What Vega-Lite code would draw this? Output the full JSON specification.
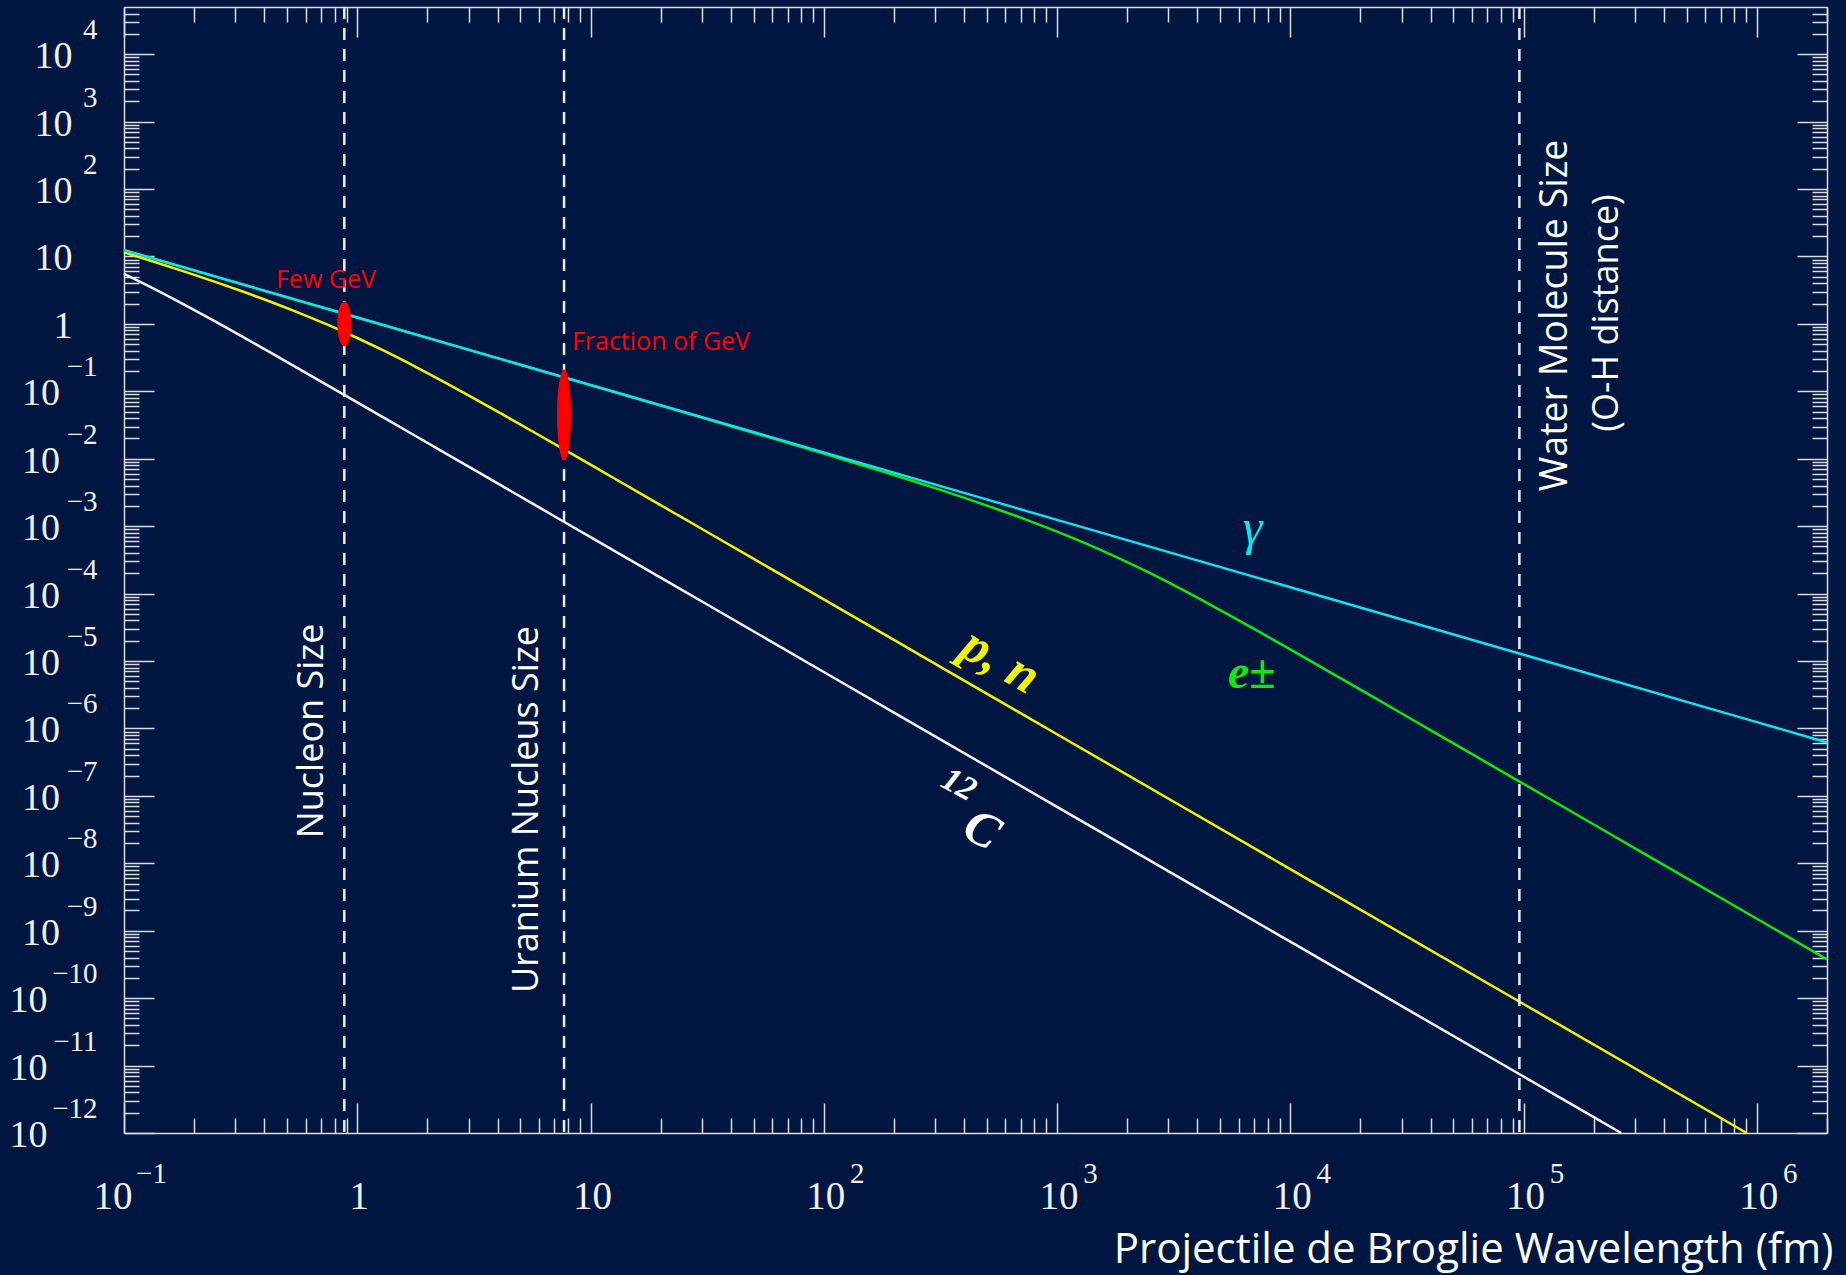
{
  "$schema": "https://vega.github.io/schema/vega-lite/v6.json",
  "width": 1703,
  "height": 1126,
  "autosize": {"type": "none"},
  "padding": {"left": 124, "top": 7, "right": 19, "bottom": 142},
  "background": "#011640",
  "config": {
    "view": {"stroke": null},
    "axis": {
      "grid": false, "domain": false, "ticks": false, "labels": false,
      "tickColor": "#dcdcdc", "tickWidth": 1.5, "domainColor": "#dcdcdc", "domainWidth": 1.5,
      "labelColor": "#f0f0f0", "labelFont": "Liberation Serif", "labelOverlap": false,
      "labelFlush": false, "labelBound": false, "labelLimit": 400
    }
  },
  "datasets": {
    "curves": [
      {"particle": "gamma", "wavelength_fm": 0.1, "energy_GeV": 12.3984},
      {"particle": "gamma", "wavelength_fm": 1, "energy_GeV": 1.23984},
      {"particle": "gamma", "wavelength_fm": 10, "energy_GeV": 0.123984},
      {"particle": "gamma", "wavelength_fm": 100, "energy_GeV": 0.0123984},
      {"particle": "gamma", "wavelength_fm": 1000, "energy_GeV": 0.00123984},
      {"particle": "gamma", "wavelength_fm": 10000, "energy_GeV": 0.000123984},
      {"particle": "gamma", "wavelength_fm": 100000, "energy_GeV": 0.0000123984},
      {"particle": "gamma", "wavelength_fm": 1000000, "energy_GeV": 0.00000123984},
      {"particle": "gamma", "wavelength_fm": 2000000, "energy_GeV": 6.1992e-7},
      {"particle": "electron", "wavelength_fm": 0.1, "energy_GeV": 12.3979},
      {"particle": "electron", "wavelength_fm": 1, "energy_GeV": 1.23933},
      {"particle": "electron", "wavelength_fm": 10, "energy_GeV": 0.123474},
      {"particle": "electron", "wavelength_fm": 31.6228, "energy_GeV": 0.0386993},
      {"particle": "electron", "wavelength_fm": 100, "energy_GeV": 0.0118979},
      {"particle": "electron", "wavelength_fm": 133.352, "energy_GeV": 0.0088006},
      {"particle": "electron", "wavelength_fm": 177.828, "energy_GeV": 0.00647983},
      {"particle": "electron", "wavelength_fm": 237.137, "energy_GeV": 0.0047423},
      {"particle": "electron", "wavelength_fm": 316.228, "energy_GeV": 0.0034429},
      {"particle": "electron", "wavelength_fm": 421.697, "energy_GeV": 0.00247319},
      {"particle": "electron", "wavelength_fm": 562.341, "energy_GeV": 0.00175222},
      {"particle": "electron", "wavelength_fm": 749.894, "energy_GeV": 0.00121951},
      {"particle": "electron", "wavelength_fm": 1000, "energy_GeV": 0.00083002},
      {"particle": "electron", "wavelength_fm": 1333.52, "energy_GeV": 0.00054992},
      {"particle": "electron", "wavelength_fm": 1778.28, "energy_GeV": 0.000353423},
      {"particle": "electron", "wavelength_fm": 2371.37, "energy_GeV": 0.000220082},
      {"particle": "electron", "wavelength_fm": 3162.28, "energy_GeV": 0.000133081},
      {"particle": "electron", "wavelength_fm": 4216.97, "energy_GeV": 0.000078545},
      {"particle": "electron", "wavelength_fm": 5623.41, "energy_GeV": 0.000045535},
      {"particle": "electron", "wavelength_fm": 7498.94, "energy_GeV": 0.0000260819},
      {"particle": "electron", "wavelength_fm": 10000, "energy_GeV": 0.0000148262},
      {"particle": "electron", "wavelength_fm": 13335.2, "energy_GeV": 0.0000083894},
      {"particle": "electron", "wavelength_fm": 17782.8, "energy_GeV": 0.0000047343},
      {"particle": "electron", "wavelength_fm": 23713.7, "energy_GeV": 0.00000266777},
      {"particle": "electron", "wavelength_fm": 31622.8, "energy_GeV": 0.00000150189},
      {"particle": "electron", "wavelength_fm": 42169.7, "energy_GeV": 8.4512e-7},
      {"particle": "electron", "wavelength_fm": 56234.1, "energy_GeV": 4.7542e-7},
      {"particle": "electron", "wavelength_fm": 100000, "energy_GeV": 1.50389e-7},
      {"particle": "electron", "wavelength_fm": 316228, "energy_GeV": 1.50409e-8},
      {"particle": "electron", "wavelength_fm": 1000000, "energy_GeV": 1.50411e-9},
      {"particle": "electron", "wavelength_fm": 2000000, "energy_GeV": 3.7603e-10},
      {"particle": "proton", "wavelength_fm": 0.1, "energy_GeV": 11.4956},
      {"particle": "proton", "wavelength_fm": 0.133352, "energy_GeV": 8.40646},
      {"particle": "proton", "wavelength_fm": 0.177828, "energy_GeV": 6.0967},
      {"particle": "proton", "wavelength_fm": 0.237137, "energy_GeV": 4.37361},
      {"particle": "proton", "wavelength_fm": 0.316228, "energy_GeV": 3.0932},
      {"particle": "proton", "wavelength_fm": 0.421697, "energy_GeV": 2.14794},
      {"particle": "proton", "wavelength_fm": 0.562341, "energy_GeV": 1.4579},
      {"particle": "proton", "wavelength_fm": 0.749894, "energy_GeV": 0.96276},
      {"particle": "proton", "wavelength_fm": 1, "energy_GeV": 0.61658},
      {"particle": "proton", "wavelength_fm": 1.33352, "energy_GeV": 0.382633},
      {"particle": "proton", "wavelength_fm": 1.77828, "energy_GeV": 0.23069},
      {"particle": "proton", "wavelength_fm": 2.37137, "energy_GeV": 0.135837},
      {"particle": "proton", "wavelength_fm": 3.16228, "energy_GeV": 0.078622},
      {"particle": "proton", "wavelength_fm": 4.21697, "energy_GeV": 0.044986},
      {"particle": "proton", "wavelength_fm": 5.62341, "energy_GeV": 0.025556},
      {"particle": "proton", "wavelength_fm": 7.49894, "energy_GeV": 0.014456},
      {"particle": "proton", "wavelength_fm": 10, "energy_GeV": 0.0081562},
      {"particle": "proton", "wavelength_fm": 13.3352, "energy_GeV": 0.0045953},
      {"particle": "proton", "wavelength_fm": 17.7828, "energy_GeV": 0.0025869},
      {"particle": "proton", "wavelength_fm": 23.7137, "energy_GeV": 0.0014556},
      {"particle": "proton", "wavelength_fm": 31.6228, "energy_GeV": 0.00081881},
      {"particle": "proton", "wavelength_fm": 56.2341, "energy_GeV": 0.00025901},
      {"particle": "proton", "wavelength_fm": 100, "energy_GeV": 0.000081913},
      {"particle": "proton", "wavelength_fm": 316.228, "energy_GeV": 0.0000081916},
      {"particle": "proton", "wavelength_fm": 1000, "energy_GeV": 8.1917e-7},
      {"particle": "proton", "wavelength_fm": 10000, "energy_GeV": 8.1917e-9},
      {"particle": "proton", "wavelength_fm": 100000, "energy_GeV": 8.1917e-11},
      {"particle": "proton", "wavelength_fm": 905080, "energy_GeV": 1e-12},
      {"particle": "carbon", "wavelength_fm": 0.1, "energy_GeV": 5.51535},
      {"particle": "carbon", "wavelength_fm": 0.133352, "energy_GeV": 3.3613},
      {"particle": "carbon", "wavelength_fm": 0.177828, "energy_GeV": 1.99615},
      {"particle": "carbon", "wavelength_fm": 0.237137, "energy_GeV": 1.16232},
      {"particle": "carbon", "wavelength_fm": 0.316228, "energy_GeV": 0.66766},
      {"particle": "carbon", "wavelength_fm": 0.421697, "energy_GeV": 0.3802},
      {"particle": "carbon", "wavelength_fm": 0.562341, "energy_GeV": 0.21536},
      {"particle": "carbon", "wavelength_fm": 0.749894, "energy_GeV": 0.121613},
      {"particle": "carbon", "wavelength_fm": 1, "energy_GeV": 0.06855},
      {"particle": "carbon", "wavelength_fm": 1.33352, "energy_GeV": 0.0386},
      {"particle": "carbon", "wavelength_fm": 1.77828, "energy_GeV": 0.021723},
      {"particle": "carbon", "wavelength_fm": 2.37137, "energy_GeV": 0.012221},
      {"particle": "carbon", "wavelength_fm": 3.16228, "energy_GeV": 0.0068739},
      {"particle": "carbon", "wavelength_fm": 5.62341, "energy_GeV": 0.0021742},
      {"particle": "carbon", "wavelength_fm": 10, "energy_GeV": 0.00068758},
      {"particle": "carbon", "wavelength_fm": 31.6228, "energy_GeV": 0.000068759},
      {"particle": "carbon", "wavelength_fm": 100, "energy_GeV": 0.000006876},
      {"particle": "carbon", "wavelength_fm": 1000, "energy_GeV": 6.876e-8},
      {"particle": "carbon", "wavelength_fm": 10000, "energy_GeV": 6.876e-10},
      {"particle": "carbon", "wavelength_fm": 100000, "energy_GeV": 6.876e-12},
      {"particle": "carbon", "wavelength_fm": 262220, "energy_GeV": 1e-12}
    ],
    "sizes": [
      {"what": "Nucleon", "wavelength_fm": 0.88},
      {"what": "Uranium nucleus", "wavelength_fm": 7.7},
      {"what": "Water molecule", "wavelength_fm": 96000}
    ],
    "ellipses": [
      {"key": "few", "wavelength_fm": 0.88, "energy_GeV": 1.0},
      {"key": "fraction", "wavelength_fm": 7.7, "energy_GeV": 0.0445}
    ],
    "labels": [
      {"key": "fewgev", "text": "Few GeV", "wavelength_fm": 0.734, "energy_GeV": 3.4},
      {"key": "fraction", "text": "Fraction of GeV", "wavelength_fm": 8.32, "energy_GeV": 0.409},
      {"key": "nucleon", "text": "Nucleon Size", "wavelength_fm": 0.639, "energy_GeV": 9.16e-7},
      {"key": "uranium", "text": "Uranium Nucleus Size", "wavelength_fm": 5.36, "energy_GeV": 6.27e-8},
      {"key": "water", "text": "Water Molecule Size", "wavelength_fm": 138000, "energy_GeV": 1.33},
      {"key": "oh", "text": "(O-H distance)", "wavelength_fm": 227000, "energy_GeV": 1.45},
      {"key": "gamma", "text": "γ", "wavelength_fm": 6902, "energy_GeV": 0.000543},
      {"key": "epm", "text": "e±", "wavelength_fm": 6839, "energy_GeV": 0.00000397},
      {"key": "pn", "text": "p, n", "wavelength_fm": 574, "energy_GeV": 0.00001},
      {"key": "a12", "text": "12", "wavelength_fm": 379, "energy_GeV": 1.45e-7},
      {"key": "c", "text": "C", "wavelength_fm": 476, "energy_GeV": 3.12e-8}
    ]
  },
  "resolve": {"axis": {"x": "independent", "y": "independent"}},
  "layer": [
    {
      "data": {"name": "curves"},
      "transform": [{"filter": "datum.particle == 'carbon'"}],
      "mark": {"type": "line", "color": "#f2f2f2", "strokeWidth": 2.5, "interpolate": "monotone"},
      "encoding": {
        "x": {"field": "wavelength_fm", "type": "quantitative", "scale": {"type": "log", "domain": [0.1, 2000000], "nice": false},
          "axis": {"orient": "bottom", "values": [0.1, 1, 10, 100, 1000, 10000, 100000, 1000000], "ticks": true, "tickSize": -30, "domain": true,
            "title": "Projectile de Broglie Wavelength (fm)", "titleFont": "Open Sans", "titleFontSize": 42, "titleFontWeight": "normal", "titleColor": "#ffffff",
            "titleAlign": "right", "titleAnchor": "end", "titleBaseline": "alphabetic", "titleX": 1709, "titleY": 129, "titleAngle": 0}},
        "y": {"field": "energy_GeV", "type": "quantitative", "scale": {"type": "log", "domain": [1e-12, 50000], "nice": false},
          "axis": {"orient": "left", "values": [1e-12, 1e-11, 1e-10, 1e-9, 1e-8, 1e-7, 1e-6, 1e-5, 1e-4, 1e-3, 0.01, 0.1, 1, 10, 100, 1000, 10000], "ticks": true, "tickSize": -30, "domain": true, "title": null}}
      }
    },
    {
      "data": {"name": "curves"},
      "transform": [{"filter": "datum.particle == 'proton'"}],
      "mark": {"type": "line", "color": "#f2f200", "strokeWidth": 2.5, "interpolate": "monotone"},
      "encoding": {
        "x": {"field": "wavelength_fm", "type": "quantitative", "scale": {"type": "log", "domain": [0.1, 2000000], "nice": false},
          "axis": {"orient": "bottom", "values": [0.2, 0.3, 0.4, 0.5, 0.6, 0.7, 0.8, 0.9, 2, 3, 4, 5, 6, 7, 8, 9, 20, 30, 40, 50, 60, 70, 80, 90, 200, 300, 400, 500, 600, 700, 800, 900, 2000, 3000, 4000, 5000, 6000, 7000, 8000, 9000, 20000, 30000, 40000, 50000, 60000, 70000, 80000, 90000, 200000, 300000, 400000, 500000, 600000, 700000, 800000, 900000, 2000000], "ticks": true, "tickSize": -15, "title": null}},
        "y": {"field": "energy_GeV", "type": "quantitative", "scale": {"type": "log", "domain": [1e-12, 50000], "nice": false},
          "axis": {"orient": "left", "values": [2e-12, 3e-12, 4e-12, 5e-12, 6e-12, 7e-12, 8e-12, 9e-12, 2e-11, 3e-11, 4e-11, 5e-11, 6e-11, 7e-11, 8e-11, 9e-11, 2e-10, 3e-10, 4e-10, 5e-10, 6e-10, 7e-10, 8e-10, 9e-10, 2e-9, 3e-9, 4e-9, 5e-9, 6e-9, 7e-9, 8e-9, 9e-9, 2e-8, 3e-8, 4e-8, 5e-8, 6e-8, 7e-8, 8e-8, 9e-8, 2e-7, 3e-7, 4e-7, 5e-7, 6e-7, 7e-7, 8e-7, 9e-7, 2e-6, 3e-6, 4e-6, 5e-6, 6e-6, 7e-6, 8e-6, 9e-6, 2e-5, 3e-5, 4e-5, 5e-5, 6e-5, 7e-5, 8e-5, 9e-5, 2e-4, 3e-4, 4e-4, 5e-4, 6e-4, 7e-4, 8e-4, 9e-4, 0.002, 0.003, 0.004, 0.005, 0.006, 0.007, 0.008, 0.009, 0.02, 0.03, 0.04, 0.05, 0.06, 0.07, 0.08, 0.09, 0.2, 0.3, 0.4, 0.5, 0.6, 0.7, 0.8, 0.9, 2, 3, 4, 5, 6, 7, 8, 9, 20, 30, 40, 50, 60, 70, 80, 90, 200, 300, 400, 500, 600, 700, 800, 900, 2000, 3000, 4000, 5000, 6000, 7000, 8000, 9000, 20000, 30000, 40000], "ticks": true, "tickSize": -15, "title": null}}
      }
    },
    {
      "data": {"name": "curves"},
      "transform": [{"filter": "datum.particle == 'electron'"}],
      "mark": {"type": "line", "color": "#12e612", "strokeWidth": 2.5, "interpolate": "monotone"},
      "encoding": {
        "x": {"field": "wavelength_fm", "type": "quantitative", "scale": {"type": "log", "domain": [0.1, 2000000], "nice": false},
          "axis": {"orient": "top", "values": [0.1, 1, 10, 100, 1000, 10000, 100000, 1000000], "ticks": true, "tickSize": -30, "domain": true, "title": null}},
        "y": {"field": "energy_GeV", "type": "quantitative", "scale": {"type": "log", "domain": [1e-12, 50000], "nice": false},
          "axis": {"orient": "right", "values": [1e-12, 1e-11, 1e-10, 1e-9, 1e-8, 1e-7, 1e-6, 1e-5, 1e-4, 1e-3, 0.01, 0.1, 1, 10, 100, 1000, 10000], "ticks": true, "tickSize": -30, "domain": true, "title": null}}
      }
    },
    {
      "data": {"name": "curves"},
      "transform": [{"filter": "datum.particle == 'gamma'"}],
      "mark": {"type": "line", "color": "#10e2f0", "strokeWidth": 2.5},
      "encoding": {
        "x": {"field": "wavelength_fm", "type": "quantitative", "scale": {"type": "log", "domain": [0.1, 2000000], "nice": false},
          "axis": {"orient": "top", "values": [0.2, 0.3, 0.4, 0.5, 0.6, 0.7, 0.8, 0.9, 2, 3, 4, 5, 6, 7, 8, 9, 20, 30, 40, 50, 60, 70, 80, 90, 200, 300, 400, 500, 600, 700, 800, 900, 2000, 3000, 4000, 5000, 6000, 7000, 8000, 9000, 20000, 30000, 40000, 50000, 60000, 70000, 80000, 90000, 200000, 300000, 400000, 500000, 600000, 700000, 800000, 900000, 2000000], "ticks": true, "tickSize": -15, "title": null}},
        "y": {"field": "energy_GeV", "type": "quantitative", "scale": {"type": "log", "domain": [1e-12, 50000], "nice": false},
          "axis": {"orient": "right", "values": [2e-12, 3e-12, 4e-12, 5e-12, 6e-12, 7e-12, 8e-12, 9e-12, 2e-11, 3e-11, 4e-11, 5e-11, 6e-11, 7e-11, 8e-11, 9e-11, 2e-10, 3e-10, 4e-10, 5e-10, 6e-10, 7e-10, 8e-10, 9e-10, 2e-9, 3e-9, 4e-9, 5e-9, 6e-9, 7e-9, 8e-9, 9e-9, 2e-8, 3e-8, 4e-8, 5e-8, 6e-8, 7e-8, 8e-8, 9e-8, 2e-7, 3e-7, 4e-7, 5e-7, 6e-7, 7e-7, 8e-7, 9e-7, 2e-6, 3e-6, 4e-6, 5e-6, 6e-6, 7e-6, 8e-6, 9e-6, 2e-5, 3e-5, 4e-5, 5e-5, 6e-5, 7e-5, 8e-5, 9e-5, 2e-4, 3e-4, 4e-4, 5e-4, 6e-4, 7e-4, 8e-4, 9e-4, 0.002, 0.003, 0.004, 0.005, 0.006, 0.007, 0.008, 0.009, 0.02, 0.03, 0.04, 0.05, 0.06, 0.07, 0.08, 0.09, 0.2, 0.3, 0.4, 0.5, 0.6, 0.7, 0.8, 0.9, 2, 3, 4, 5, 6, 7, 8, 9, 20, 30, 40, 50, 60, 70, 80, 90, 200, 300, 400, 500, 600, 700, 800, 900, 2000, 3000, 4000, 5000, 6000, 7000, 8000, 9000, 20000, 30000, 40000], "ticks": true, "tickSize": -15, "title": null}}
      }
    },
    {
      "data": {"name": "sizes"},
      "mark": {"type": "rule", "color": "#ececec", "strokeWidth": 2.5, "strokeDash": [12, 9]},
      "encoding": {
        "x": {"field": "wavelength_fm", "type": "quantitative", "scale": {"type": "log", "domain": [0.1, 2000000], "nice": false}, "axis": null}
      }
    },
    {
      "data": {"name": "ellipses"},
      "transform": [{"filter": "datum.key == 'few'"}],
      "mark": {"type": "point", "filled": true, "color": "#ff0000", "opacity": 1, "size": 2025,
        "shape": "M0,-1C0.1718,-1,0.311,-0.5523,0.311,0C0.311,0.5523,0.1718,1,0,1C-0.1718,1,-0.311,0.5523,-0.311,0C-0.311,-0.5523,-0.1718,-1,0,-1Z"},
      "encoding": {
        "x": {"field": "wavelength_fm", "type": "quantitative", "scale": {"type": "log", "domain": [0.1, 2000000], "nice": false},
          "axis": {"orient": "bottom", "values": [1, 10, 100, 1000, 10000, 100000, 1000000], "labels": true, "labelExpr": "datum.value == 1 ? '1' : '10'",
            "labelFontSize": 39, "labelAlign": "center", "labelBaseline": "top", "labelPadding": 44, "labelOffset": 1.5, "title": null}},
        "y": {"field": "energy_GeV", "type": "quantitative", "scale": {"type": "log", "domain": [1e-12, 50000], "nice": false},
          "axis": {"orient": "left", "values": [1, 10, 100, 1000, 10000], "labels": true, "labelExpr": "datum.value == 1 ? '1' : '10'",
            "labelFontSize": 38, "labelAlign": "right", "labelBaseline": "middle", "labelPadding": 52, "labelOffset": 2.5, "title": null}}
      }
    },
    {
      "data": {"name": "ellipses"},
      "transform": [{"filter": "datum.key == 'fraction'"}],
      "mark": {"type": "point", "filled": true, "color": "#ff0000", "opacity": 1, "size": 8281,
        "shape": "M0,-1C0.085,-1,0.1538,-0.5523,0.1538,0C0.1538,0.5523,0.085,1,0,1C-0.085,1,-0.1538,0.5523,-0.1538,0C-0.1538,-0.5523,-0.085,-1,0,-1Z"},
      "encoding": {
        "x": {"field": "wavelength_fm", "type": "quantitative", "scale": {"type": "log", "domain": [0.1, 2000000], "nice": false},
          "axis": {"orient": "bottom", "values": [0.1], "labels": true, "labelExpr": "'10'",
            "labelFontSize": 39, "labelAlign": "center", "labelBaseline": "top", "labelPadding": 44, "labelOffset": -11.5, "title": null}},
        "y": {"field": "energy_GeV", "type": "quantitative", "scale": {"type": "log", "domain": [1e-12, 50000], "nice": false},
          "axis": {"orient": "left", "values": [1e-9, 1e-8, 1e-7, 1e-6, 1e-5, 1e-4, 1e-3, 0.01, 0.1], "labels": true, "labelExpr": "'10'",
            "labelFontSize": 38, "labelAlign": "right", "labelBaseline": "middle", "labelPadding": 64.5, "labelOffset": 2.5, "title": null}}
      }
    },
    {
      "data": {"name": "labels"},
      "transform": [{"filter": "datum.key == 'fewgev'"}],
      "mark": {"type": "text", "font": "Open Sans", "fontSize": 25, "color": "#ff0000", "align": "center", "baseline": "alphabetic"},
      "encoding": {
        "x": {"field": "wavelength_fm", "type": "quantitative", "scale": {"type": "log", "domain": [0.1, 2000000], "nice": false},
          "axis": {"orient": "bottom", "values": [100, 1000, 10000, 100000, 1000000], "labels": true, "labelExpr": "toString(round(log(datum.value)/LN10))",
            "labelFontSize": 29, "labelAlign": "center", "labelBaseline": "top", "labelPadding": 26, "labelOffset": 33, "title": null}},
        "y": {"field": "energy_GeV", "type": "quantitative", "scale": {"type": "log", "domain": [1e-12, 50000], "nice": false},
          "axis": {"orient": "left", "values": [1e-12, 1e-11, 1e-10], "labels": true, "labelExpr": "'10'",
            "labelFontSize": 38, "labelAlign": "right", "labelBaseline": "middle", "labelPadding": 77, "labelOffset": 2.5, "title": null}},
        "text": {"field": "text"}
      }
    },
    {
      "data": {"name": "labels"},
      "transform": [{"filter": "datum.key == 'fraction'"}],
      "mark": {"type": "text", "font": "Open Sans", "fontSize": 25, "color": "#ff0000", "align": "left", "baseline": "alphabetic"},
      "encoding": {
        "x": {"field": "wavelength_fm", "type": "quantitative", "scale": {"type": "log", "domain": [0.1, 2000000], "nice": false},
          "axis": {"orient": "bottom", "values": [0.1], "labels": true, "labelExpr": "'−1'",
            "labelFontSize": 29, "labelAlign": "center", "labelBaseline": "top", "labelPadding": 26, "labelOffset": 27, "title": null}},
        "y": {"field": "energy_GeV", "type": "quantitative", "scale": {"type": "log", "domain": [1e-12, 50000], "nice": false},
          "axis": {"orient": "left", "values": [1e-12, 1e-11, 1e-10, 1e-9, 1e-8, 1e-7, 1e-6, 1e-5, 1e-4, 1e-3, 0.01, 0.1, 100, 1000, 10000], "labels": true,
            "labelExpr": "replace(toString(round(log(datum.value)/LN10)), '-', '−')",
            "labelFontSize": 29, "labelAlign": "right", "labelBaseline": "middle", "labelPadding": 27, "labelOffset": -24.5, "title": null}},
        "text": {"field": "text"}
      }
    },
    {
      "data": {"name": "labels"},
      "transform": [{"filter": "datum.key == 'nucleon' || datum.key == 'uranium' || datum.key == 'oh'"}],
      "mark": {"type": "text", "font": "Open Sans", "fontSize": 36, "color": "#ffffff", "align": "center", "baseline": "middle", "angle": 270},
      "encoding": {
        "x": {"field": "wavelength_fm", "type": "quantitative", "scale": {"type": "log", "domain": [0.1, 2000000], "nice": false}, "axis": null},
        "y": {"field": "energy_GeV", "type": "quantitative", "scale": {"type": "log", "domain": [1e-12, 50000], "nice": false}, "axis": null},
        "text": {"field": "text"}
      }
    },
    {
      "data": {"name": "labels"},
      "transform": [{"filter": "datum.key == 'water'"}],
      "mark": {"type": "text", "font": "Open Sans", "fontSize": 37.5, "color": "#ffffff", "align": "center", "baseline": "middle", "angle": 270},
      "encoding": {
        "x": {"field": "wavelength_fm", "type": "quantitative", "scale": {"type": "log", "domain": [0.1, 2000000], "nice": false}, "axis": null},
        "y": {"field": "energy_GeV", "type": "quantitative", "scale": {"type": "log", "domain": [1e-12, 50000], "nice": false}, "axis": null},
        "text": {"field": "text"}
      }
    },
    {
      "data": {"name": "labels"},
      "transform": [{"filter": "datum.key == 'gamma'"}],
      "mark": {"type": "text", "font": "Liberation Serif", "fontStyle": "italic", "fontSize": 50, "color": "#10e2f0", "align": "center", "baseline": "alphabetic"},
      "encoding": {
        "x": {"field": "wavelength_fm", "type": "quantitative", "scale": {"type": "log", "domain": [0.1, 2000000], "nice": false}, "axis": null},
        "y": {"field": "energy_GeV", "type": "quantitative", "scale": {"type": "log", "domain": [1e-12, 50000], "nice": false}, "axis": null},
        "text": {"field": "text"}
      }
    },
    {
      "data": {"name": "labels"},
      "transform": [{"filter": "datum.key == 'epm'"}],
      "mark": {"type": "text", "font": "Liberation Serif", "fontStyle": "italic", "fontWeight": "bold", "fontSize": 48, "color": "#12e612", "align": "center", "baseline": "alphabetic"},
      "encoding": {
        "x": {"field": "wavelength_fm", "type": "quantitative", "scale": {"type": "log", "domain": [0.1, 2000000], "nice": false}, "axis": null},
        "y": {"field": "energy_GeV", "type": "quantitative", "scale": {"type": "log", "domain": [1e-12, 50000], "nice": false}, "axis": null},
        "text": {"field": "text"}
      }
    },
    {
      "data": {"name": "labels"},
      "transform": [{"filter": "datum.key == 'pn'"}],
      "mark": {"type": "text", "font": "Liberation Serif", "fontStyle": "italic", "fontWeight": "bold", "fontSize": 52, "color": "#f2f200", "align": "center", "baseline": "middle", "angle": 30},
      "encoding": {
        "x": {"field": "wavelength_fm", "type": "quantitative", "scale": {"type": "log", "domain": [0.1, 2000000], "nice": false}, "axis": null},
        "y": {"field": "energy_GeV", "type": "quantitative", "scale": {"type": "log", "domain": [1e-12, 50000], "nice": false}, "axis": null},
        "text": {"field": "text"}
      }
    },
    {
      "data": {"name": "labels"},
      "transform": [{"filter": "datum.key == 'a12'"}],
      "mark": {"type": "text", "font": "Liberation Serif", "fontStyle": "italic", "fontWeight": "bold", "fontSize": 34, "color": "#ffffff", "align": "center", "baseline": "middle", "angle": 28},
      "encoding": {
        "x": {"field": "wavelength_fm", "type": "quantitative", "scale": {"type": "log", "domain": [0.1, 2000000], "nice": false}, "axis": null},
        "y": {"field": "energy_GeV", "type": "quantitative", "scale": {"type": "log", "domain": [1e-12, 50000], "nice": false}, "axis": null},
        "text": {"field": "text"}
      }
    },
    {
      "data": {"name": "labels"},
      "transform": [{"filter": "datum.key == 'c'"}],
      "mark": {"type": "text", "font": "Liberation Serif", "fontStyle": "italic", "fontWeight": "bold", "fontSize": 50, "color": "#ffffff", "align": "center", "baseline": "middle", "angle": 28},
      "encoding": {
        "x": {"field": "wavelength_fm", "type": "quantitative", "scale": {"type": "log", "domain": [0.1, 2000000], "nice": false}, "axis": null},
        "y": {"field": "energy_GeV", "type": "quantitative", "scale": {"type": "log", "domain": [1e-12, 50000], "nice": false}, "axis": null},
        "text": {"field": "text"}
      }
    }
  ]
}
